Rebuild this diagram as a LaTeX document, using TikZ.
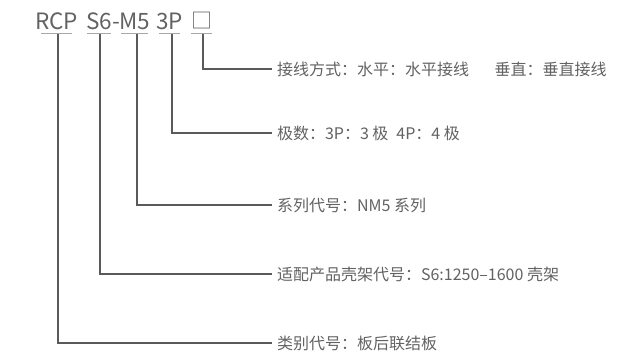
\documentclass[tikz,border=0pt]{standalone}
\usepackage{fontspec}
\setmainfont{Noto Sans CJK SC}
\definecolor{txt}{HTML}{626262}
\definecolor{wirec}{HTML}{5A5A5A}
\definecolor{ulc}{HTML}{A8A8A8}
\begin{document}
\begin{tikzpicture}[x=1pt,y=-1pt,
  code/.style={font=\fontsize{22.5}{22}\selectfont, text=txt, inner sep=0pt, anchor=base},
  lab/.style={font=\fontsize{16}{16}\selectfont, text=txt, inner sep=0pt, outer xsep=5pt, anchor=west},
  wire/.style={draw=wirec, line width=1.4pt},
  uline/.style={draw=ulc, line width=1.2pt}]
\useasboundingbox (0,0) rectangle (617,357);
% code text
\node[code] (rcp) at (56.5,29) {RCP};
\node[code] (s6) at (99,29) {S6};
\node[code] (hy) at (116,29) {-};
\node[code] (m5) at (134.5,29) {M5};
\node[code] (p3) at (169.5,29) {3P};
\node[code, font=\fontsize{21}{21}\selectfont] (bx) at (201.5,28.5) {□};
% underlines
\draw[uline] (41,33.5) -- (72,33.5);
\draw[uline] (87,33.5) -- (111,33.5);
\draw[uline] (121,33.5) -- (148,33.5);
\draw[uline] (159,33.5) -- (180,33.5);
\draw[uline] (191,33.5) -- (212,33.5);
\coordinate (u1) at (58,33.5);
\coordinate (u2) at (100,33.5);
\coordinate (u3) at (137,33.5);
\coordinate (u4) at (172,33.5);
\coordinate (u5) at (203,33.5);
% labels
\node[lab] (l5) at (272,69) {接线方式：水平：水平接线\hspace{1.6em}垂直：垂直接线};
\node[lab] (l4) at (272,133) {极数：3P：3 极\hspace{0.5em}4P：4 极};
\node[lab] (l3) at (272,205) {系列代号：NM5 系列};
\node[lab] (l2) at (272,274) {适配产品壳架代号：S6:1250–1600 壳架};
\node[lab] (l1) at (272,343) {类别代号：板后联结板};
% connectors
\draw[wire] (u5) |- (l5.west);
\draw[wire] (u4) |- (l4.west);
\draw[wire] (u3) |- (l3.west);
\draw[wire] (u2) |- (l2.west);
\draw[wire] (u1) |- (l1.west);
\end{tikzpicture}
\end{document}
